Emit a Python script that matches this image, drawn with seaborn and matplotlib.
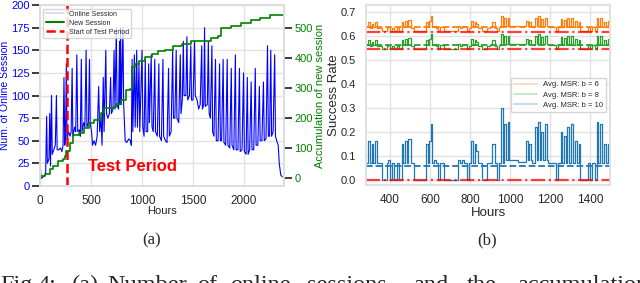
import matplotlib
matplotlib.use("Agg")
import matplotlib.pyplot as plt
import seaborn as sns
from matplotlib.lines import Line2D

# (a) online sessions per hour
sess_hours = [
    0, 8, 30, 55, 65, 72, 88, 95, 103, 113,
    120, 135, 150, 161, 168, 185, 200, 215, 226, 235,
    243, 250, 258, 265, 280, 295, 305, 315, 322, 340,
    350, 361, 370, 385, 395, 405, 412, 428, 440, 452,
    460, 475, 485, 492, 505, 515, 530, 545, 560, 575,
    585, 598, 608, 620, 628, 645, 652, 665, 680, 692,
    700, 715, 726, 735, 748, 755, 770, 780, 786, 790,
    798, 813, 820, 835, 850, 870, 887, 895, 903, 910,
    925, 933, 948, 955, 970, 978, 1000, 1008, 1020, 1032,
    1040, 1055, 1065, 1072, 1090, 1098, 1110, 1125, 1132, 1150,
    1165, 1172, 1190, 1205, 1212, 1230, 1245, 1260, 1268, 1285,
    1300, 1308, 1322, 1335, 1342, 1360, 1375, 1382, 1395, 1405,
    1412, 1430, 1440, 1448, 1465, 1478, 1485, 1500, 1515, 1522,
    1540, 1555, 1570, 1585, 1592, 1605, 1613, 1620, 1640, 1650,
    1658, 1670, 1685, 1692, 1705, 1720, 1728, 1745, 1760, 1768,
    1780, 1795, 1803, 1820, 1835, 1842, 1860, 1875, 1882, 1900,
    1915, 1922, 1940, 1955, 1962, 1980, 1995, 2003, 2020, 2032,
    2040, 2055, 2070, 2078, 2095, 2110, 2118, 2135, 2150, 2158,
    2175, 2190, 2198, 2215, 2230, 2238, 2250, 2262, 2270, 2285,
    2300, 2308, 2320, 2335, 2345, 2360, 2375,
]
sess_counts = [
    35, 8, 10, 12, 77, 25, 30, 80, 22, 100,
    35, 40, 45, 100, 40, 40, 42, 38, 45, 120,
    45, 55, 135, 52, 60, 55, 60, 130, 55, 65,
    60, 145, 60, 62, 55, 140, 60, 70, 65, 150,
    65, 70, 140, 70, 60, 45, 50, 45, 55, 110,
    60, 75, 45, 120, 60, 150, 80, 75, 80, 120,
    80, 85, 150, 85, 175, 90, 85, 160, 90, 175,
    90, 175, 90, 50, 48, 52, 50, 45, 140, 60,
    145, 65, 150, 65, 135, 60, 150, 65, 55, 140,
    60, 60, 135, 70, 145, 65, 60, 140, 60, 55,
    135, 55, 50, 140, 55, 50, 48, 130, 55, 60,
    150, 75, 75, 150, 75, 70, 145, 80, 95, 160,
    100, 100, 165, 95, 100, 155, 95, 95, 160, 100,
    95, 85, 90, 155, 85, 90, 175, 88, 90, 160,
    80, 75, 155, 60, 55, 140, 50, 50, 135, 50,
    50, 140, 48, 45, 140, 45, 42, 130, 45, 40,
    145, 40, 40, 130, 38, 40, 125, 38, 35, 120,
    35, 40, 115, 40, 40, 130, 45, 45, 110, 50,
    50, 115, 50, 52, 155, 55, 55, 150, 55, 60,
    145, 55, 50, 45, 25, 12, 10,
]

# (a) accumulated new sessions
new_hours = [0, 48, 97, 129, 177, 226, 242, 258, 290, 323,
             387, 435, 484, 532, 581, 597, 629, 726, 742, 790,
             839, 887, 903, 935, 968, 1032, 1097, 1161, 1226, 1306,
             1387, 1419, 1484, 1613, 1677, 1742, 1774, 1871, 1968, 2065,
             2161, 2258, 2355, 2390]
new_total = [5, 11, 28, 39, 55, 61, 72, 88, 116, 143,
             149, 166, 182, 193, 195, 215, 232, 237, 248, 259,
             292, 298, 370, 381, 392, 403, 414, 423, 427, 441,
             447, 449, 456, 458, 469, 475, 500, 508, 519, 526,
             533, 544, 546, 546]
test_start = 268

# (b) average MSR per hour for b = 6, 8, 10
msr_hours = [
    280, 292, 300, 308, 317, 325, 335, 360, 385, 392,
    400, 408, 420, 433, 445, 458, 466, 475, 483, 492,
    505, 520, 560, 580, 588, 596, 604, 610, 618, 628,
    640, 652, 670, 700, 740, 750, 760, 772, 783, 795,
    805, 815, 823, 831, 840, 860, 885, 900, 912, 925,
    935, 945, 955, 965, 972, 980, 988, 996, 1004, 1040,
    1080, 1088, 1096, 1104, 1112, 1125, 1133, 1141, 1149, 1157,
    1165, 1175, 1183, 1192, 1210, 1230, 1242, 1255, 1262, 1270,
    1278, 1286, 1296, 1304, 1315, 1325, 1335, 1343, 1352, 1370,
    1392, 1400, 1410, 1425, 1433, 1441, 1450, 1460, 1472, 1480,
    1490, 1500,
]
msr_b10 = [
    0.07, 0.16, 0.07, 0.15, 0.07, 0.16, 0.07, 0.0, 0.07, 0.08,
    0.0, 0.07, 0.0, 0.07, 0.0, 0.15, 0.07, 0.16, 0.07, 0.17,
    0.07, 0.0, 0.0, 0.15, 0.07, 0.16, 0.23, 0.07, 0.08, 0.07,
    0.0, 0.07, 0.0, 0.0, 0.08, 0.07, 0.08, 0.07, 0.0, 0.07,
    0.16, 0.07, 0.15, 0.12, 0.07, 0.0, 0.07, 0.07, 0.15, 0.07,
    0.0, 0.07, 0.3, 0.07, 0.23, 0.08, 0.24, 0.08, 0.08, 0.075,
    0.16, 0.08, 0.15, 0.08, 0.07, 0.22, 0.08, 0.24, 0.08, 0.2,
    0.08, 0.23, 0.08, 0.07, 0.07, 0.0, 0.07, 0.2, 0.07, 0.18,
    0.07, 0.22, 0.07, 0.23, 0.07, 0.16, 0.07, 0.15, 0.0, 0.0,
    0.07, 0.0, 0.07, 0.0, 0.24, 0.07, 0.23, 0.07, 0.15, 0.07,
    0.15, 0.15,
]
msr_b8 = [
    0.56, 0.58, 0.555, 0.575, 0.56, 0.58, 0.555, 0.545, 0.555, 0.56,
    0.545, 0.555, 0.545, 0.555, 0.545, 0.58, 0.56, 0.585, 0.56, 0.59,
    0.555, 0.545, 0.545, 0.58, 0.56, 0.585, 0.605, 0.56, 0.565, 0.555,
    0.545, 0.56, 0.545, 0.545, 0.565, 0.555, 0.565, 0.56, 0.545, 0.555,
    0.585, 0.56, 0.58, 0.575, 0.555, 0.545, 0.555, 0.56, 0.58, 0.555,
    0.545, 0.56, 0.605, 0.565, 0.6, 0.565, 0.6, 0.565, 0.565, 0.565,
    0.585, 0.565, 0.58, 0.565, 0.56, 0.6, 0.565, 0.605, 0.565, 0.595,
    0.565, 0.6, 0.565, 0.56, 0.56, 0.545, 0.56, 0.595, 0.56, 0.59,
    0.56, 0.6, 0.56, 0.6, 0.56, 0.585, 0.56, 0.58, 0.545, 0.545,
    0.56, 0.545, 0.56, 0.545, 0.6, 0.56, 0.6, 0.56, 0.58, 0.56,
    0.585, 0.585,
]
msr_b6 = [
    0.635, 0.655, 0.63, 0.65, 0.635, 0.655, 0.63, 0.62, 0.63, 0.635,
    0.62, 0.63, 0.62, 0.63, 0.62, 0.655, 0.635, 0.66, 0.635, 0.665,
    0.63, 0.62, 0.62, 0.655, 0.635, 0.66, 0.68, 0.635, 0.64, 0.63,
    0.62, 0.635, 0.62, 0.62, 0.64, 0.63, 0.64, 0.635, 0.62, 0.63,
    0.66, 0.635, 0.655, 0.65, 0.63, 0.62, 0.63, 0.635, 0.655, 0.63,
    0.62, 0.635, 0.68, 0.64, 0.675, 0.64, 0.675, 0.64, 0.64, 0.64,
    0.66, 0.64, 0.655, 0.64, 0.635, 0.675, 0.64, 0.68, 0.64, 0.67,
    0.64, 0.675, 0.64, 0.635, 0.635, 0.62, 0.635, 0.67, 0.635, 0.665,
    0.635, 0.675, 0.635, 0.675, 0.635, 0.66, 0.635, 0.655, 0.62, 0.62,
    0.635, 0.62, 0.635, 0.62, 0.675, 0.635, 0.675, 0.635, 0.655, 0.635,
    0.66, 0.66,
]
msr_labels = ["Avg. MSR: b = 6", "Avg. MSR: b = 8", "Avg. MSR: b = 10"]
msr_means = [0.636, 0.559, 0.058]
msr_floors = [0.616, 0.543, 0.0]
msr_colors = ["#ff7f0e", "#2ca02c", "#1f77b4"]

caption_words = ["Fig.", "4:", "(a)", "Number", "of", "online", "sessions",
                 "and", "the", "accumulation"]


def main():
    sns.set_theme(style="whitegrid")
    plt.rcParams["font.family"] = ["Liberation Sans", "DejaVu Sans"]
    plt.rcParams["axes.edgecolor"] = "#dddddd"
    plt.rcParams["grid.color"] = "#e2e2e2"

    fig = plt.figure(figsize=(6.4, 2.83), dpi=100)

    # ---- (a) ----
    ax = fig.add_axes([0.0625, 0.343, 0.381, 0.639])
    sns.lineplot(x=sess_hours, y=sess_counts, ax=ax, color="blue", lw=0.8)
    ax.axvline(test_start, color="red", ls="--", lw=1.8)
    ax.set_xlim(0, 2390)
    ax.set_ylim(0, 200)
    ax.set_xticks([0, 500, 1000, 1500, 2000])
    ax.set_yticks(range(0, 201, 25))
    ax.tick_params(axis="x", labelsize=8.5, pad=0.5)
    ax.tick_params(axis="y", labelsize=8, labelcolor="blue", pad=1.5)
    ax.set_xlabel("Hours", fontsize=8, labelpad=-1)
    ax.set_ylabel("Num. of Online Session", fontsize=7.5, color="blue", labelpad=1)
    ax.text(903, 16, "Test Period", color="red", fontsize=12, fontweight="bold",
            ha="center")

    ax2 = ax.twinx()
    sns.lineplot(x=new_hours, y=new_total, ax=ax2, color="green", lw=1.2,
                 drawstyle="steps-post")
    ax2.grid(False)
    ax2.set_ylim(-27.5, 577.5)
    ax2.set_yticks(range(0, 501, 100))
    ax2.tick_params(axis="y", labelsize=8, labelcolor="green", pad=1.5)
    ax2.set_ylabel("Accumulation of new session", fontsize=8, color="green",
                   labelpad=1.5)
    handles = [
        Line2D([], [], color="#d8dcff", lw=1.5),
        Line2D([], [], color="green", lw=1.5),
        Line2D([], [], color="red", ls="--", lw=1.8),
    ]
    ax2.legend(handles, ["Online Session", "New Session", "Start of Test Period"],
               loc="upper left", fontsize=5, frameon=True, handlelength=2.6,
               borderpad=0.3, labelspacing=0.3, bbox_to_anchor=(0.0, 1.0))

    # ---- (b) ----
    bx = fig.add_axes([0.572, 0.346, 0.381, 0.636])
    series = [msr_b6, msr_b8, msr_b10]
    for vals, mean, floor, col in zip(series, msr_means, msr_floors, msr_colors):
        sns.lineplot(x=msr_hours, y=vals, ax=bx, color=col, lw=0.9,
                     drawstyle="steps-post")
        bx.axhline(mean, color=col, ls="--", lw=1.3)
        bx.axhline(floor, color="red", alpha=0.75, ls="-.", lw=1.6)
    bx.set_xlim(280, 1500)
    bx.set_ylim(-0.023, 0.727)
    bx.set_xticks(range(400, 1401, 200))
    bx.set_yticks([i / 10 for i in range(8)])
    bx.set_yticklabels([f"{i / 10:.1f}" for i in range(8)])
    bx.tick_params(axis="x", labelsize=8.5, pad=0.5)
    bx.tick_params(axis="y", labelsize=8, pad=1.5)
    bx.set_xlabel("Hours", fontsize=9.5, labelpad=0.5)
    bx.set_ylabel("Success Rate", fontsize=9.5, labelpad=0)
    pale = [Line2D([], [], color=c, alpha=0.25, lw=1.5) for c in msr_colors]
    bx.legend(pale, msr_labels, loc="center right", bbox_to_anchor=(1.0, 0.5),
              fontsize=5.5, frameon=True, handlelength=3, borderpad=0.4,
              labelspacing=0.4)

    # captions
    fig.text(152 / 640, 1 - 240 / 283, "(a)", family="Liberation Serif",
             fontsize=12, ha="center", va="center")
    fig.text(487 / 640, 1 - 240 / 283, "(b)", family="Liberation Serif",
             fontsize=12, ha="center", va="center")
    # justified caption line, cut by the bottom edge
    word_x = [0, 38, 72, 107, 197, 230, 307, 413, 467, 517]
    for word, px in zip(caption_words, word_x):
        fig.text(px / 640, -0.028, word, family="Liberation Serif", fontsize=17.5,
                 ha="left", va="baseline")

    fig.savefig("out.png", dpi=100)


if __name__ == "__main__":
    main()
